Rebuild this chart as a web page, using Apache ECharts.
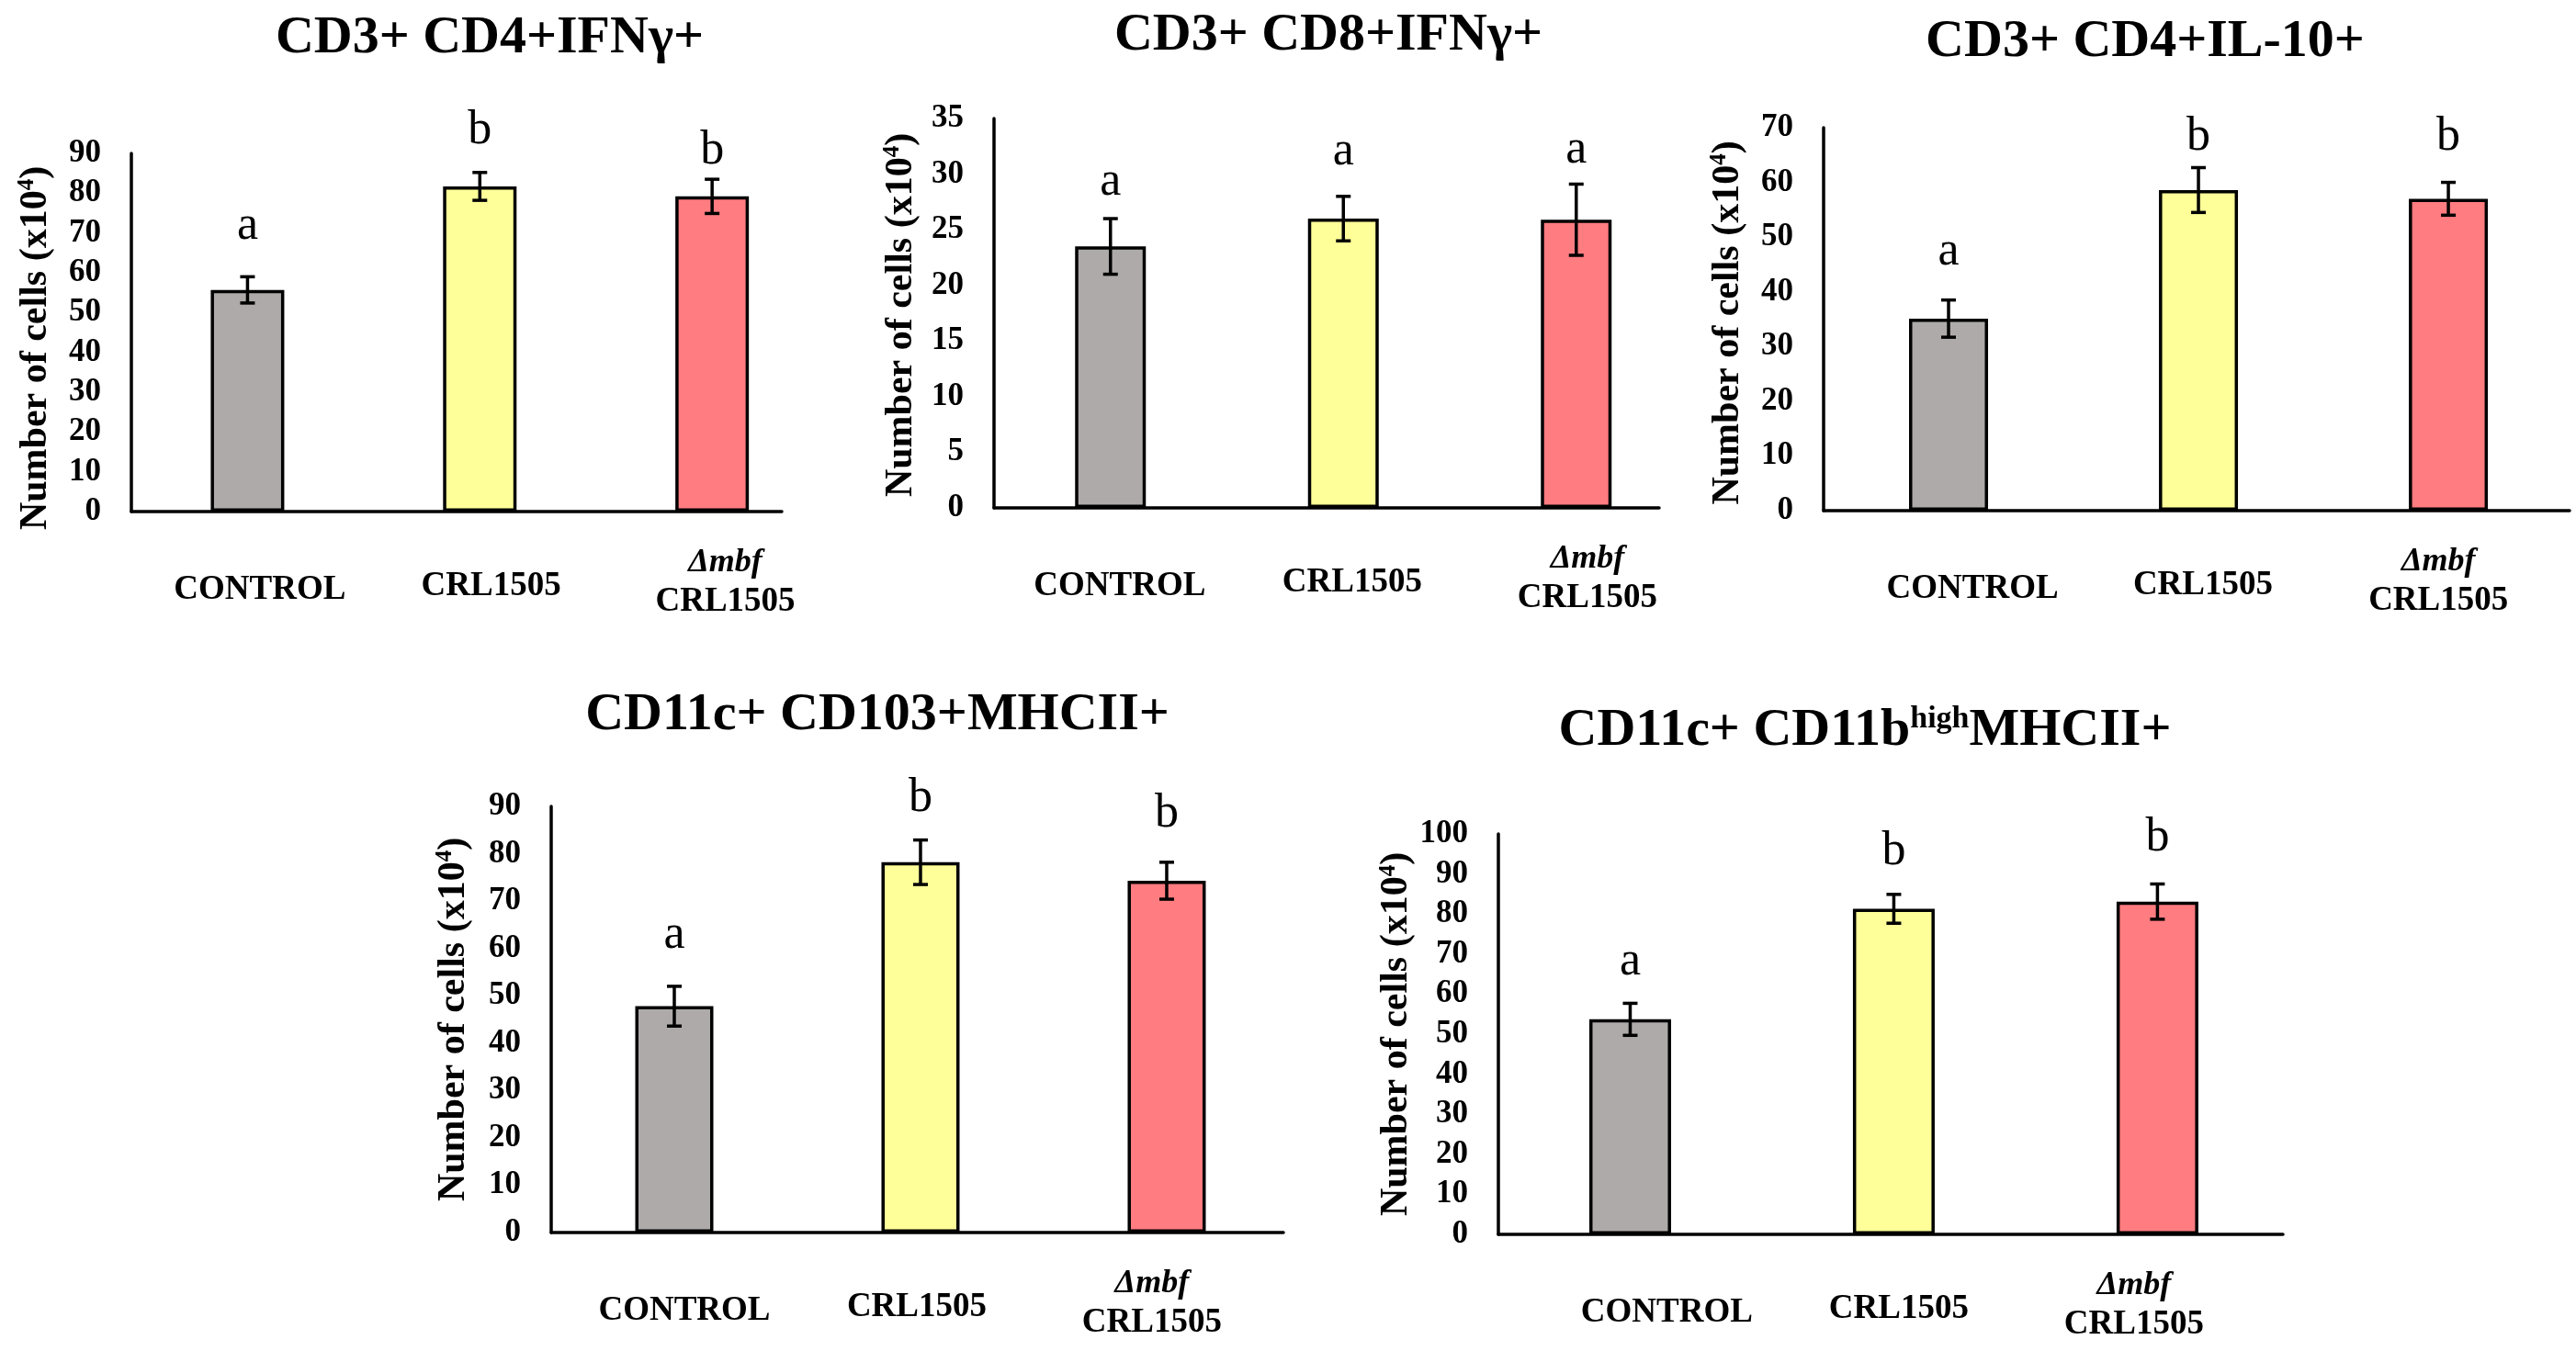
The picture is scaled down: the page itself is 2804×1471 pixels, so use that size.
<!DOCTYPE html>
<html>
<head>
<meta charset="utf-8">
<script src="https://cdn.jsdelivr.net/npm/echarts@6/dist/echarts.min.js"></script>
<style>
html,body{margin:0;padding:0;background:#fff;}
#main{width:2804px;height:1471px;}
</style>
</head>
<body>
<div id="main"></div>
<script>
// ---------- DATA ----------
const categories = ['CONTROL', 'CRL1505', 'Δmbf CRL1505'];
const titles = [
  'CD3+ CD4+IFNγ+',
  'CD3+ CD8+IFNγ+',
  'CD3+ CD4+IL-10+',
  'CD11c+ CD103+MHCII+',
  'CD11c+ CD11b{sup|high}MHCII+'
];
const yAxisName = 'Number of cells (x10{s|4})';

const means1 = [55.7, 81.7, 79.2];
const errs1 = [3.3, 3.5, 4.3];
const letters1 = ['a', 'b', 'b'];
const letterY1 = [71.7, 95.8, 90.5];

const means2 = [23.5, 26.0, 25.9];
const errs2 = [2.5, 2.0, 3.2];
const letters2 = ['a', 'a', 'a'];
const letterY2 = [29.3, 32.0, 32.2];

const means3 = [35.1, 58.6, 57.0];
const errs3 = [3.4, 4.1, 3.0];
const letters3 = ['a', 'b', 'b'];
const letterY3 = [47.3, 68.2, 68.2];

const means4 = [47.8, 78.2, 74.3];
const errs4 = [4.2, 4.7, 3.9];
const letters4 = ['a', 'b', 'b'];
const letterY4 = [62.8, 91.7, 88.4];

const means5 = [53.7, 81.3, 83.1];
const errs5 = [4.0, 3.6, 4.4];
const letters5 = ['a', 'b', 'b'];
const letterY5 = [68.1, 95.6, 98.9];

const yMax = [90, 35, 70, 90, 100];
const yInterval = [10, 5, 10, 10, 10];

// ---------- LAYOUT / STYLE ----------
const barColors = ['#AEAAAA', '#FFFF99', '#FF7C80'];
const FONT = '"Liberation Serif", "Times New Roman", serif';
const layout = [
  {left: 143, top: 167, width: 708, height: 390, xMax: 2.8,   barW: 80, nameGap: 82, namePad: [0, 34, 0, 0], labelAt: [0.553, 1.549, 2.557], tx: 533,  ty: 13},
  {left: 1082, top: 129, width: 724, height: 424, xMax: 2.856, barW: 77, nameGap: 79, namePad: [0, 4, 0, 0],  labelAt: [0.540, 1.538, 2.548], tx: 1446, ty: 10},
  {left: 1985, top: 139, width: 812, height: 417, xMax: 2.985, barW: 86, nameGap: 82, namePad: [0, 8, 0, 0],  labelAt: [0.596, 1.518, 2.46],  tx: 2335, ty: 17},
  {left: 600, top: 878, width: 797, height: 464, xMax: 2.974, barW: 85, nameGap: 84, namePad: [0, 0, 0, 0],  labelAt: [0.541, 1.485, 2.44],  tx: 955,  ty: 750},
  {left: 1631, top: 908, width: 854, height: 436, xMax: 2.976, barW: 89, nameGap: 88, namePad: [0, 0, 0, 0],  labelAt: [0.639, 1.519, 2.411], tx: 2030, ty: 766}
];

const allMeans = [means1, means2, means3, means4, means5];
const allErrs = [errs1, errs2, errs3, errs4, errs5];
const allLetters = [letters1, letters2, letters3, letters4, letters5];
const allLetterY = [letterY1, letterY2, letterY3, letterY4, letterY5];

const chart = echarts.init(document.getElementById('main'), null, {renderer: 'canvas'});

const option = {
  backgroundColor: '#ffffff',
  animation: false,
  title: [],
  grid: [],
  xAxis: [],
  yAxis: [],
  series: []
};

layout.forEach((L, p) => {
  option.title.push({
    text: titles[p],
    left: L.tx,
    top: L.ty,
    textAlign: 'center',
    padding: 0,
    textStyle: {
      fontFamily: FONT, fontWeight: 'bold', fontSize: 58, color: '#000',
      rich: {
        sup: {fontFamily: FONT, fontWeight: 'bold', fontSize: 34, color: '#000', padding: [0, 0, 26, 0]}
      }
    }
  });
  option.grid.push({left: L.left, top: L.top, width: L.width, height: L.height, containLabel: false});
  option.xAxis.push({
    type: 'value', gridIndex: p, min: 0, max: L.xMax,
    splitLine: {show: false},
    axisTick: {show: false},
    axisLine: {show: true, onZero: true, lineStyle: {color: '#000', width: 3.5}},
    axisLabel: {
      show: true,
      customValues: L.labelAt,
      margin: 34,
      color: '#000',
      fontFamily: FONT,
      fontWeight: 'bold',
      fontSize: 37,
      align: 'center',
      verticalAlign: 'top',
      formatter: function (v, i) {
        let idx = 0, best = 1e9;
        L.labelAt.forEach((c, k) => { if (Math.abs(c - v) < best) { best = Math.abs(c - v); idx = k; } });
        if (idx === 0) return '{c|' + categories[0] + '}';
        if (idx === 1) return '{r|' + categories[1] + '}';
        const parts = categories[2].split(' ');
        return '{i|' + parts[0] + '}\n{b|' + parts[1] + '}';
      },
      rich: {
        c: {fontFamily: FONT, fontWeight: 'bold', fontSize: 37, color: '#000', lineHeight: 103},
        r: {fontFamily: FONT, fontWeight: 'bold', fontSize: 37, color: '#000', lineHeight: 95},
        i: {fontFamily: FONT, fontWeight: 'bold', fontStyle: 'italic', fontSize: 36, color: '#000', lineHeight: 43},
        b: {fontFamily: FONT, fontWeight: 'bold', fontSize: 37, color: '#000', lineHeight: 43}
      }
    }
  });
  option.yAxis.push({
    type: 'value', gridIndex: p, min: 0, max: yMax[p], interval: yInterval[p],
    splitLine: {show: false},
    axisTick: {show: false},
    axisLine: {show: true, onZero: true, lineStyle: {color: '#000', width: 3.5}},
    axisLabel: {color: '#000', fontFamily: FONT, fontWeight: 'bold', fontSize: 35, margin: 33},
    name: yAxisName,
    nameLocation: 'middle',
    nameGap: L.nameGap,
    nameRotate: 90,
    nameTextStyle: {
      color: '#000', fontFamily: FONT, fontWeight: 'bold', fontSize: 42,
      padding: L.namePad,
      rich: {
        s: {color: '#000', fontFamily: FONT, fontWeight: 'bold', fontSize: 25, padding: [0, 0, 19, 0]}
      }
    }
  });

  const means = allMeans[p], errs = allErrs[p], letters = allLetters[p], ly = allLetterY[p];

  option.series.push({
    type: 'bar',
    xAxisIndex: p, yAxisIndex: p,
    barWidth: L.barW,
    data: means.map((m, k) => ({
      value: [k + 0.5, m],
      itemStyle: {color: barColors[k], borderColor: '#000', borderWidth: 3.5}
    })),
    z: 2
  });

  option.series.push({
    type: 'custom',
    xAxisIndex: p, yAxisIndex: p,
    data: means.map((m, k) => [k + 0.5, m - errs[k], m + errs[k]]),
    encode: {x: 0, y: [1, 2]},
    z: 5,
    renderItem: function (params, api) {
      const x = api.value(0);
      const lo = api.coord([x, api.value(1)]);
      const hi = api.coord([x, api.value(2)]);
      const hw = 8;
      const st = {stroke: '#000', lineWidth: 3.5};
      return {
        type: 'group',
        children: [
          {type: 'line', shape: {x1: hi[0], y1: hi[1], x2: lo[0], y2: lo[1]}, style: st},
          {type: 'line', shape: {x1: hi[0] - hw, y1: hi[1], x2: hi[0] + hw, y2: hi[1]}, style: st},
          {type: 'line', shape: {x1: lo[0] - hw, y1: lo[1], x2: lo[0] + hw, y2: lo[1]}, style: st}
        ]
      };
    }
  });

  option.series.push({
    type: 'custom',
    xAxisIndex: p, yAxisIndex: p,
    data: ly.map((y, k) => [k + 0.5, y]),
    z: 6,
    clip: false,
    renderItem: function (params, api) {
      const pt = api.coord([api.value(0), api.value(1)]);
      return {
        type: 'text',
        x: pt[0], y: pt[1],
        style: {
          text: letters[params.dataIndex],
          fontFamily: FONT, fontSize: 52, fill: '#000',
          align: 'center', verticalAlign: 'middle'
        }
      };
    }
  });
});

chart.setOption(option);
</script>
</body>
</html>
